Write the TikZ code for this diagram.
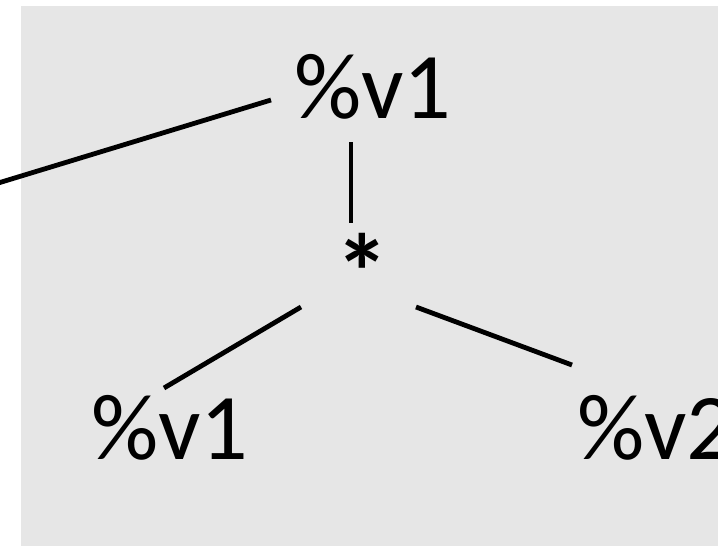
\documentclass[tikz,border=0pt]{standalone}
\usepackage{fontspec}
\setmainfont{Carlito}
\definecolor{bggray}{RGB}{230,230,230}
\begin{document}
\begin{tikzpicture}[x=1pt,y=-1pt,
  lbl/.style={inner sep=0pt,outer sep=0pt,font=\fontsize{94}{100}\selectfont,anchor=base west},
  edge/.style={line width=4.8pt,black}]
\useasboundingbox (0,0) rectangle (718,546);
\fill[bggray] (21,6) rectangle (730,560);
\node[lbl] (top) at (294,118) {\%v1};
\node[inner sep=0pt,font=\fontsize{108}{110}\selectfont\bfseries] (star) at (362,272) {*};
\node[lbl] (left) at (91,459) {\%v1};
\node[lbl] (right) at (577,459) {\%v2};
\coordinate (a1) at (-5,184);
\coordinate (a2) at (271,100);
\coordinate (b1) at (351,142);
\coordinate (b2) at (351,223);
\coordinate (c1) at (301,307);
\coordinate (c2) at (164,388);
\coordinate (d1) at (416,307);
\coordinate (d2) at (572,365);
\draw[edge] (a1) -- (a2);
\draw[edge] (b1) -- (b2);
\draw[edge] (c1) -- (c2);
\draw[edge] (d1) -- (d2);
\end{tikzpicture}
\end{document}
